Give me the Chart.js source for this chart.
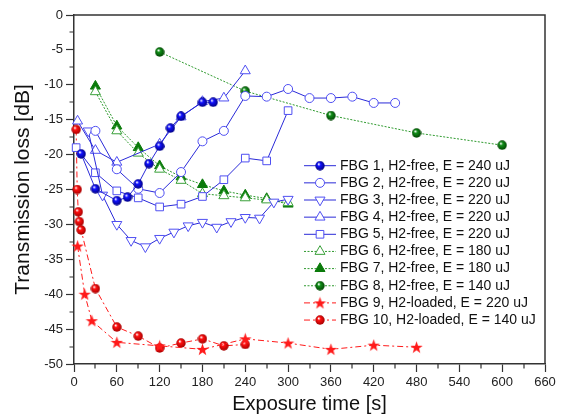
<!DOCTYPE html>
<html>
<head>
<meta charset="utf-8">
<script src="https://cdn.jsdelivr.net/npm/chart.js@4.4.1/dist/chart.umd.min.js"></script>
<style>
  html, body { margin: 0; padding: 0; background: #fff; }
</style>
</head>
<body>
<canvas id="chart" width="565" height="416"></canvas>
<script>
// exposure time [s] and transmission loss [dB] per grating
const fbg1Time = [10, 30, 60, 75, 90, 105, 120, 135, 150, 180, 195]
const fbg1Loss = [-19.9, -24.9, -26.6, -26.1, -24.2, -21.3, -18.8, -16.2, -14.5, -12.5, -12.5]
const fbg2Time = [30, 60, 90, 120, 150, 180, 210, 240, 270, 300, 330, 360, 390, 420, 450]
const fbg2Loss = [-16.6, -22.1, -24.9, -25.5, -22.5, -18.1, -16.6, -11.6, -11.7, -10.6, -11.9, -11.9, -11.7, -12.6, -12.6]
const fbg3Time = [20, 40, 60, 80, 100, 120, 140, 160, 180, 200, 220, 240, 260, 280, 300]
const fbg3Loss = [-16.6, -25.8, -30.0, -32.3, -33.2, -32.0, -31.1, -30.2, -29.7, -30.4, -29.6, -29.0, -29.1, -26.8, -26.4]
const fbg4Time = [5, 30, 60, 120, 150, 180, 210, 240]
const fbg4Loss = [-15.2, -19.4, -21.1, -18.5, -14.6, -12.4, -11.9, -8.0]
const fbg5Time = [3, 30, 60, 90, 120, 150, 180, 210, 240, 270, 300]
const fbg5Loss = [-19.0, -22.6, -25.2, -26.2, -27.5, -27.1, -26.0, -23.6, -20.5, -20.9, -13.7]
const fbg6Time = [30, 60, 90, 120, 150, 180, 210, 240, 270, 300]
const fbg6Loss = [-11.0, -16.6, -19.8, -22.1, -23.7, -25.6, -25.9, -26.2, -26.5, -26.9]
const fbg7Time = [30, 60, 90, 120, 150, 180, 210, 240, 270, 300]
const fbg7Loss = [-10.2, -15.9, -19.0, -21.6, -23.2, -24.3, -25.2, -25.8, -26.3, -27.1]
const fbg8Time = [120, 240, 360, 480, 600]
const fbg8Loss = [-5.3, -10.9, -14.4, -16.9, -18.65]
const fbg9Time = [5, 15, 25, 60, 120, 180, 240, 300, 360, 420, 480]
const fbg9Loss = [-33.1, -40.0, -43.8, -46.9, -47.4, -47.9, -46.4, -47.0, -47.9, -47.3, -47.6]
const fbg10Time = [3, 4.5, 6, 7.5, 10, 30, 60, 90, 120, 150, 180, 210, 240]
const fbg10Loss = [-16.4, -25.0, -28.2, -29.6, -30.8, -39.2, -44.7, -46.0, -47.7, -47.0, -46.4, -47.4, -47.2]

const seriesLabels = [
  'FBG 1, H2-free, E = 240 uJ',
  'FBG 2, H2-free, E = 220 uJ',
  'FBG 3, H2-free, E = 220 uJ',
  'FBG 4, H2-free, E = 220 uJ',
  'FBG 5, H2-free, E = 220 uJ',
  'FBG 6, H2-free, E = 180 uJ',
  'FBG 7, H2-free, E = 180 uJ',
  'FBG 8, H2-free, E = 140 uJ',
  'FBG 9, H2-loaded, E = 220 uJ',
  'FBG 10, H2-loaded, E = 140 uJ'
]
const xTicks = { min: 0, max: 660, step: 60 }
const yTicks = { min: -50, max: 0, step: 5 }

const font = '"Liberation Sans", Arial, sans-serif'
const axisColor = '#333'
const blueLine = '#2a2ad8'
const blueOpen = '#4f4ff2'
const greenLine = '#2f9a2f'
const greenFill = '#0a7a0a'
const red = '#ff1a1a'

// shaded sphere used for the "ball" markers
function ball(color, dark, size = 10) {
  const c = document.createElement('canvas')
  c.width = c.height = size
  const g = c.getContext('2d')
  const grad = g.createRadialGradient(size * 0.36, size * 0.32, 0.3, size / 2, size / 2, size / 2)
  grad.addColorStop(0, '#ffffff')
  grad.addColorStop(0.3, color)
  grad.addColorStop(1, dark)
  g.fillStyle = grad
  g.beginPath()
  g.arc(size / 2, size / 2, size / 2 - 0.3, 0, Math.PI * 2)
  g.fill()
  return c
}

// filled five point star
function star(color, size = 13) {
  const c = document.createElement('canvas')
  c.width = c.height = size
  const g = c.getContext('2d')
  const r1 = size / 2, r2 = size * 0.2
  g.fillStyle = color
  g.beginPath()
  for (let k = 0; k < 10; k++) {
    const r = k % 2 ? r2 : r1
    const a = -Math.PI / 2 + k * Math.PI / 5
    g.lineTo(size / 2 + r * Math.cos(a), size / 2 + 0.5 + r * Math.sin(a))
  }
  g.closePath()
  g.fill()
  return c
}

const blueBall = ball('#1010ff', '#00007a')
const greenBall = ball('#12901a', '#004000')
const redBall = ball('#ff1010', '#a00000')
const redStar = star(red)

const solid = { borderColor: blueLine, borderWidth: 1, borderDash: [] }
const dotted = { borderColor: greenLine, borderWidth: 1, borderDash: [2, 1.5] }
const dashDot = { borderColor: red, borderWidth: 1, borderDash: [6, 3, 2, 3] }
const openMark = (pointStyle, extra = {}) => ({
  pointStyle, pointRadius: 4.5, pointBackgroundColor: '#fff', pointBorderColor: blueOpen, pointBorderWidth: 1, ...extra
})
const imageMark = img => ({ pointStyle: img, pointRadius: 5, pointBackgroundColor: '#fff', pointBorderColor: '#fff', pointBorderWidth: 0 })

function series(i, time, loss, line, mark) {
  return {
    label: seriesLabels[i],
    data: time.map((t, k) => ({ x: t, y: loss[k] })),
    showLine: true,
    tension: 0,
    clip: false,
    ...line,
    ...mark
  }
}

const datasets = [
  series(0, fbg1Time, fbg1Loss, solid, imageMark(blueBall)),
  series(1, fbg2Time, fbg2Loss, solid, openMark('circle')),
  series(2, fbg3Time, fbg3Loss, solid, openMark('triangle', { pointRadius: 5.8, pointRotation: 180 })),
  series(3, fbg4Time, fbg4Loss, solid, openMark('triangle', { pointRadius: 5.8 })),
  series(4, fbg5Time, fbg5Loss, solid, openMark('rect', { pointRadius: 5.4 })),
  series(5, fbg6Time, fbg6Loss, dotted, { pointStyle: 'triangle', pointRadius: 5.8, pointBackgroundColor: '#fff', pointBorderColor: '#3aa03a', pointBorderWidth: 1 }),
  series(6, fbg7Time, fbg7Loss, dotted, { pointStyle: 'triangle', pointRadius: 5.8, pointBackgroundColor: greenFill, pointBorderColor: greenFill, pointBorderWidth: 1 }),
  series(7, fbg8Time, fbg8Loss, dotted, imageMark(greenBall)),
  series(8, fbg9Time, fbg9Loss, dashDot, imageMark(redStar)),
  series(9, fbg10Time, fbg10Loss, dashDot, imageMark(redBall))
]

// closes the box on top/right and adds the short minor ticks
const frame = {
  id: 'frame',
  afterDraw(chart) {
    const { ctx, chartArea: a, scales: { x, y } } = chart
    ctx.save()
    ctx.strokeStyle = axisColor
    ctx.lineWidth = 1.5
    ctx.beginPath()
    ctx.moveTo(a.left, a.top)
    ctx.lineTo(a.right, a.top)
    ctx.lineTo(a.right, a.bottom)
    ctx.stroke()
    ctx.lineWidth = 1.2
    ctx.beginPath()
    for (let v = xTicks.min + xTicks.step / 2; v < xTicks.max; v += xTicks.step) {
      const px = Math.round(x.getPixelForValue(v))
      ctx.moveTo(px, a.bottom)
      ctx.lineTo(px, a.bottom + 4.5)
    }
    for (let v = yTicks.min + yTicks.step / 2; v < yTicks.max; v += yTicks.step) {
      const py = Math.round(y.getPixelForValue(v))
      ctx.moveTo(a.left, py)
      ctx.lineTo(a.left - 4.5, py)
    }
    ctx.stroke()
    ctx.restore()
  }
}

// legend with line sample + marker, inside the plot
const legendBox = {
  id: 'legendBox',
  afterDraw(chart) {
    const { ctx } = chart
    ctx.save()
    ctx.font = '14px ' + font
    ctx.textBaseline = 'middle'
    chart.data.datasets.forEach((ds, i) => {
      const y = 165.7 + i * 17.15
      ctx.strokeStyle = ds.borderColor
      ctx.lineWidth = ds.borderWidth
      ctx.setLineDash(ds.borderDash)
      ctx.beginPath()
      ctx.moveTo(304, y)
      ctx.lineTo(336, y)
      ctx.stroke()
      ctx.setLineDash([])
      ctx.fillStyle = ds.pointBackgroundColor
      ctx.strokeStyle = ds.pointBorderColor
      ctx.lineWidth = ds.pointBorderWidth
      Chart.helpers.drawPoint(ctx, {
        pointStyle: ds.pointStyle,
        rotation: ds.pointRotation || 0,
        radius: ds.pointRadius,
        borderWidth: ds.pointBorderWidth
      }, 320, y)
      ctx.fillStyle = '#111'
      ctx.fillText(ds.label, 340, y)
    })
    ctx.restore()
  }
}

new Chart(document.getElementById('chart'), {
  type: 'scatter',
  data: { datasets },
  options: {
    responsive: false,
    animation: false,
    devicePixelRatio: 1,
    layout: { padding: { top: 15, right: 20, left: 0, bottom: 0 } },
    plugins: { legend: { display: false }, tooltip: { enabled: false } },
    scales: {
      x: {
        type: 'linear', min: xTicks.min, max: xTicks.max,
        afterFit: s => { s.height = 52 },
        border: { display: true, color: axisColor, width: 1.5 },
        grid: { drawOnChartArea: false, tickLength: 8, tickColor: axisColor, tickWidth: 1.2 },
        ticks: { stepSize: xTicks.step, color: '#222', padding: 3, maxRotation: 0, font: { family: font, size: 13 } },
        title: { display: true, text: 'Exposure time [s]', color: '#111', padding: { top: 0, bottom: 0 }, font: { family: font, size: 20 } }
      },
      y: {
        type: 'linear', min: yTicks.min, max: yTicks.max,
        afterFit: s => { s.width = 74 },
        border: { display: true, color: axisColor, width: 1.5 },
        grid: { drawOnChartArea: false, tickLength: 8, tickColor: axisColor, tickWidth: 1.2 },
        ticks: { stepSize: yTicks.step, color: '#222', padding: 3, font: { family: font, size: 13 } },
        title: { display: true, text: 'Transmission loss [dB]', color: '#111', padding: { top: 11, bottom: 0 }, font: { family: font, size: 21 } }
      }
    }
  },
  plugins: [frame, legendBox]
})
</script>
</body>
</html>
